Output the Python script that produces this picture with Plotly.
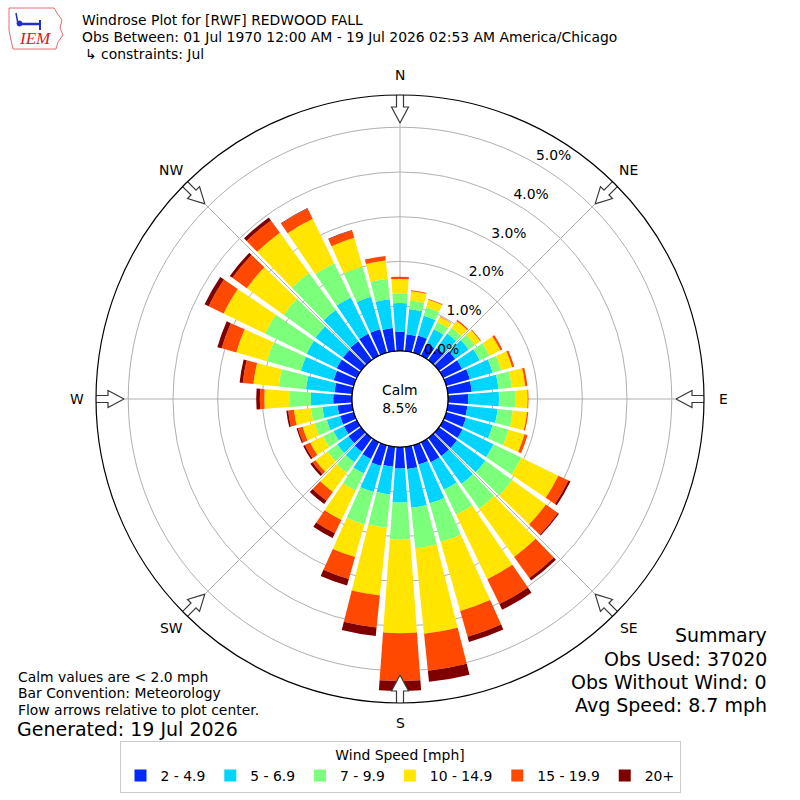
import math
import plotly.graph_objects as go

# ---------------- data (percent of observations) ----------------
directions = list(range(0, 360, 10))
speed_labels = ["2 - 4.9", "5 - 6.9", "7 - 9.9", "10 - 14.9", "15 - 19.9", "20+"]
colors = ["#0028ff", "#00d4ff", "#7cff7a", "#ffe500", "#ff4900", "#800000"]

pct_2_5 = [0.43, 0.38, 0.40, 0.30, 0.33, 0.45, 0.47, 0.55, 0.54, 0.45, 0.44, 0.46,
           0.48, 0.50, 0.50, 0.50, 0.45, 0.50, 0.48, 0.45, 0.48, 0.42, 0.38, 0.35,
           0.32, 0.32, 0.33, 0.42, 0.40, 0.47, 0.50, 0.50, 0.52, 0.55, 0.55, 0.52]
pct_5_7 = [0.64, 0.57, 0.46, 0.36, 0.40, 0.37, 0.44, 0.53, 0.60, 0.69, 0.68, 0.62,
           0.77, 0.78, 0.77, 0.68, 0.90, 0.87, 0.76, 0.62, 0.61, 0.36, 0.29, 0.31,
           0.26, 0.31, 0.34, 0.50, 0.64, 0.76, 0.75, 0.76, 0.86, 0.90, 0.75, 0.65]
pct_7_10 = [0.22, 0.19, 0.20, 0.18, 0.16, 0.17, 0.24, 0.20, 0.30, 0.36, 0.34, 0.37,
            0.69, 0.74, 0.68, 0.62, 0.90, 0.91, 0.83, 0.75, 0.75, 0.42, 0.29, 0.27,
            0.26, 0.28, 0.26, 0.47, 0.61, 0.79, 1.03, 0.88, 1.02, 0.85, 0.70, 0.46]
pct_10_15 = [0.32, 0.21, 0.17, 0.13, 0.19, 0.15, 0.27, 0.25, 0.30, 0.28, 0.32, 0.37,
             0.92, 0.93, 1.33, 1.60, 1.60, 1.92, 2.09, 1.52, 0.76, 0.73, 0.53, 0.33,
             0.32, 0.28, 0.38, 0.57, 0.57, 0.71, 1.03, 1.01, 1.11, 1.10, 0.67, 0.41]
pct_15_20 = [0.05, 0.02, 0.02, 0.01, 0.03, 0.02, 0.05, 0.05, 0.05, 0.02, 0.03, 0.07,
             0.25, 0.33, 0.58, 0.62, 0.60, 0.83, 1.07, 0.72, 0.51, 0.33, 0.24, 0.08,
             0.13, 0.11, 0.13, 0.10, 0.24, 0.34, 0.37, 0.40, 0.34, 0.26, 0.17, 0.10]
pct_20p = [0.00, 0.00, 0.00, 0.00, 0.00, 0.00, 0.00, 0.00, 0.00, 0.00, 0.00, 0.00,
           0.05, 0.03, 0.07, 0.14, 0.12, 0.25, 0.22, 0.19, 0.15, 0.12, 0.09, 0.06,
           0.04, 0.03, 0.04, 0.08, 0.07, 0.10, 0.10, 0.07, 0.08, 0.01, 0.01, 0.00]
speed_series = [pct_2_5, pct_5_7, pct_7_10, pct_10_15, pct_15_20, pct_20p]

radial_ticks = [0, 1, 2, 3, 4, 5]
radial_ticktext = ["0.0%", "1.0%", "2.0%", "3.0%", "4.0%", "5.0%"]
compass_vals = [0, 45, 90, 135, 180, 225, 270, 315]
compass_text = ["N", "NE", "E", "SE", "S", "SW", "W", "NW"]
calm_pct = 8.5

# ---------------- layout geometry ----------------
W = H = 800
CX, CY = 400, 399
R_PX, HOLE_PX = 304, 48
RMAX = 5.72
FONT = "DejaVu Sans"
FS = 13.9


def px(x):
    return x / W


def py(y):
    return 1 - y / H


def to_r(dpx):
    # pixel distance from centre -> radial data units (decorations only)
    return (dpx - HOLE_PX) / (R_PX - HOLE_PX) * RMAX


fig = go.Figure()

for vals, lab, col in zip(speed_series, speed_labels, colors):
    fig.add_trace(go.Barpolar(
        r=vals, theta=directions, width=[8.3] * len(directions), name=lab,
        marker=dict(color=col, line=dict(width=0)),
        hoverinfo="skip",
    ))

# black circle at the hole edge (r = 0)
ring_theta = list(range(0, 361, 2))
fig.add_trace(go.Scatterpolar(
    r=[0] * len(ring_theta), theta=ring_theta, mode="lines",
    line=dict(color="black", width=1.3), showlegend=False, hoverinfo="skip",
))

# radial tick labels
fig.add_trace(go.Scatterpolar(
    r=radial_ticks, theta=[30.0] * len(radial_ticks), mode="text",
    text=radial_ticktext, textposition="top right",
    textfont=dict(family=FONT, size=FS, color="black"),
    showlegend=False, hoverinfo="skip", cliponaxis=False,
))

# hollow flow arrows at compass points (decoration)
arrow_local = [(305, -3.5), (292, -3.5), (292, -8.5), (276, 0), (292, 8.5),
               (292, 3.5), (305, 3.5), (305, -3.5)]
for th0 in compass_vals:
    rs, ts = [], []
    for d, p in arrow_local:
        rs.append(to_r(math.hypot(d, p)))
        ts.append(th0 + math.degrees(math.atan2(p, d)))
    fig.add_trace(go.Scatterpolar(
        r=rs, theta=ts, mode="lines", fill="toself", fillcolor="white",
        line=dict(color="#3a3a3a", width=1.2), showlegend=False,
        hoverinfo="skip", cliponaxis=False,
    ))

half = R_PX / W
fig.update_layout(
    width=W, height=H,
    margin=dict(l=0, r=0, t=0, b=0),
    paper_bgcolor="white",
    font=dict(family=FONT, size=FS, color="black"),
    polar=dict(
        domain=dict(x=[px(CX) - half, px(CX) + half], y=[py(CY) - half, py(CY) + half]),
        bgcolor="white",
        hole=HOLE_PX / R_PX,
        barmode="stack",
        radialaxis=dict(
            range=[0, RMAX], tickvals=radial_ticks, showticklabels=False,
            ticks="", showline=False, gridcolor="#b0b0b0", gridwidth=1,
        ),
        angularaxis=dict(
            rotation=90, direction="clockwise",
            tickvals=compass_vals, showticklabels=False, ticks="",
            showline=True, linecolor="black", linewidth=1.2,
            showgrid=True, gridcolor="#b0b0b0", gridwidth=1,
        ),
    ),
    showlegend=True,
    legend=dict(
        orientation="h", x=0.5, xanchor="center", y=py(741), yanchor="top",
        bordercolor="#cccccc", borderwidth=1, bgcolor="white",
        title=dict(text="Wind Speed [mph]", side="top center",
                   font=dict(family=FONT, size=FS)),
        font=dict(family=FONT, size=FS), traceorder="normal",
        itemwidth=30,
    ),
)

annotations = [
    dict(x=px(CX), y=py(CY), text=f"Calm<br>{calm_pct:.1f}%", showarrow=False,
         xanchor="center", yanchor="middle", align="center",
         font=dict(family=FONT, size=FS)),
    dict(x=px(80), y=py(20), text="Windrose Plot for [RWF] REDWOOD FALL", xanchor="left"),
    dict(x=px(80), y=py(37), text="Obs Between: 01 Jul 1970 12:00 AM - 19 Jul 2026 02:53 AM America/Chicago", xanchor="left"),
    dict(x=px(83), y=py(54), text="↳ constraints: Jul", xanchor="left"),
    dict(x=px(16), y=py(677), text="Calm values are < 2.0 mph", xanchor="left"),
    dict(x=px(16), y=py(693), text="Bar Convention: Meteorology", xanchor="left"),
    dict(x=px(16), y=py(710), text="Flow arrows relative to plot center.", xanchor="left"),
    dict(x=px(15), y=py(729), text="Generated: 19 Jul 2026", xanchor="left", font=dict(size=19)),
    dict(x=px(769), y=py(635), text="Summary", xanchor="right", font=dict(size=19)),
    dict(x=px(769), y=py(659), text="Obs Used: 37020", xanchor="right", font=dict(size=19)),
    dict(x=px(769), y=py(682), text="Obs Without Wind: 0", xanchor="right", font=dict(size=19)),
    dict(x=px(769), y=py(705), text="Avg Speed: 8.7 mph", xanchor="right", font=dict(size=19)),
    dict(x=px(35), y=py(39), text="<i>IEM</i>", xanchor="center",
         font=dict(family="Liberation Serif", size=17, color="#d42020")),
]
# compass labels just outside the outer ring
LABEL_R = 323.5
for th, lab in zip(compass_vals, compass_text):
    a = math.radians(th)
    annotations.append(dict(x=px(CX + LABEL_R * math.sin(a)), y=py(CY - LABEL_R * math.cos(a)),
                            text=lab, xanchor="center"))
for a in annotations:
    a.setdefault("xref", "paper")
    a.setdefault("yref", "paper")
    a.setdefault("showarrow", False)
    a.setdefault("yanchor", "middle")
    f = a.setdefault("font", {})
    f.setdefault("family", FONT)
    f.setdefault("size", FS)
    f.setdefault("color", "black")
fig.update_layout(annotations=annotations)

# IEM logo (decoration)
iowa = [(9, 8), (54, 8), (57, 13), (62, 20), (60, 28), (63, 35), (58, 42), (56, 49),
        (13, 49), (11, 40), (9, 30), (9, 8)]
path = "M " + " L ".join(f"{px(x)},{py(y)}" for x, y in iowa) + " Z"
shapes = [
    dict(type="path", path=path, xref="paper", yref="paper",
         line=dict(color="#e07070", width=1)),
    dict(type="line", x0=px(19), y0=py(24), x1=px(40), y1=py(24), xref="paper", yref="paper",
         line=dict(color="#2030c0", width=2.5)),
    dict(type="line", x0=px(40), y0=py(20), x1=px(40), y1=py(30), xref="paper", yref="paper",
         line=dict(color="#2030c0", width=2)),
    dict(type="line", x0=px(16), y0=py(13), x1=px(18), y1=py(24), xref="paper", yref="paper",
         line=dict(color="#2030c0", width=1.5)),
    dict(type="circle", x0=px(17), y0=py(21), x1=px(22), y1=py(26), xref="paper", yref="paper",
         fillcolor="#2030c0", line=dict(color="#2030c0", width=1)),
]
fig.update_layout(shapes=shapes)

fig.write_html("out.html", post_script="document.body.style.margin='0px';",
               config={"displayModeBar": False})
